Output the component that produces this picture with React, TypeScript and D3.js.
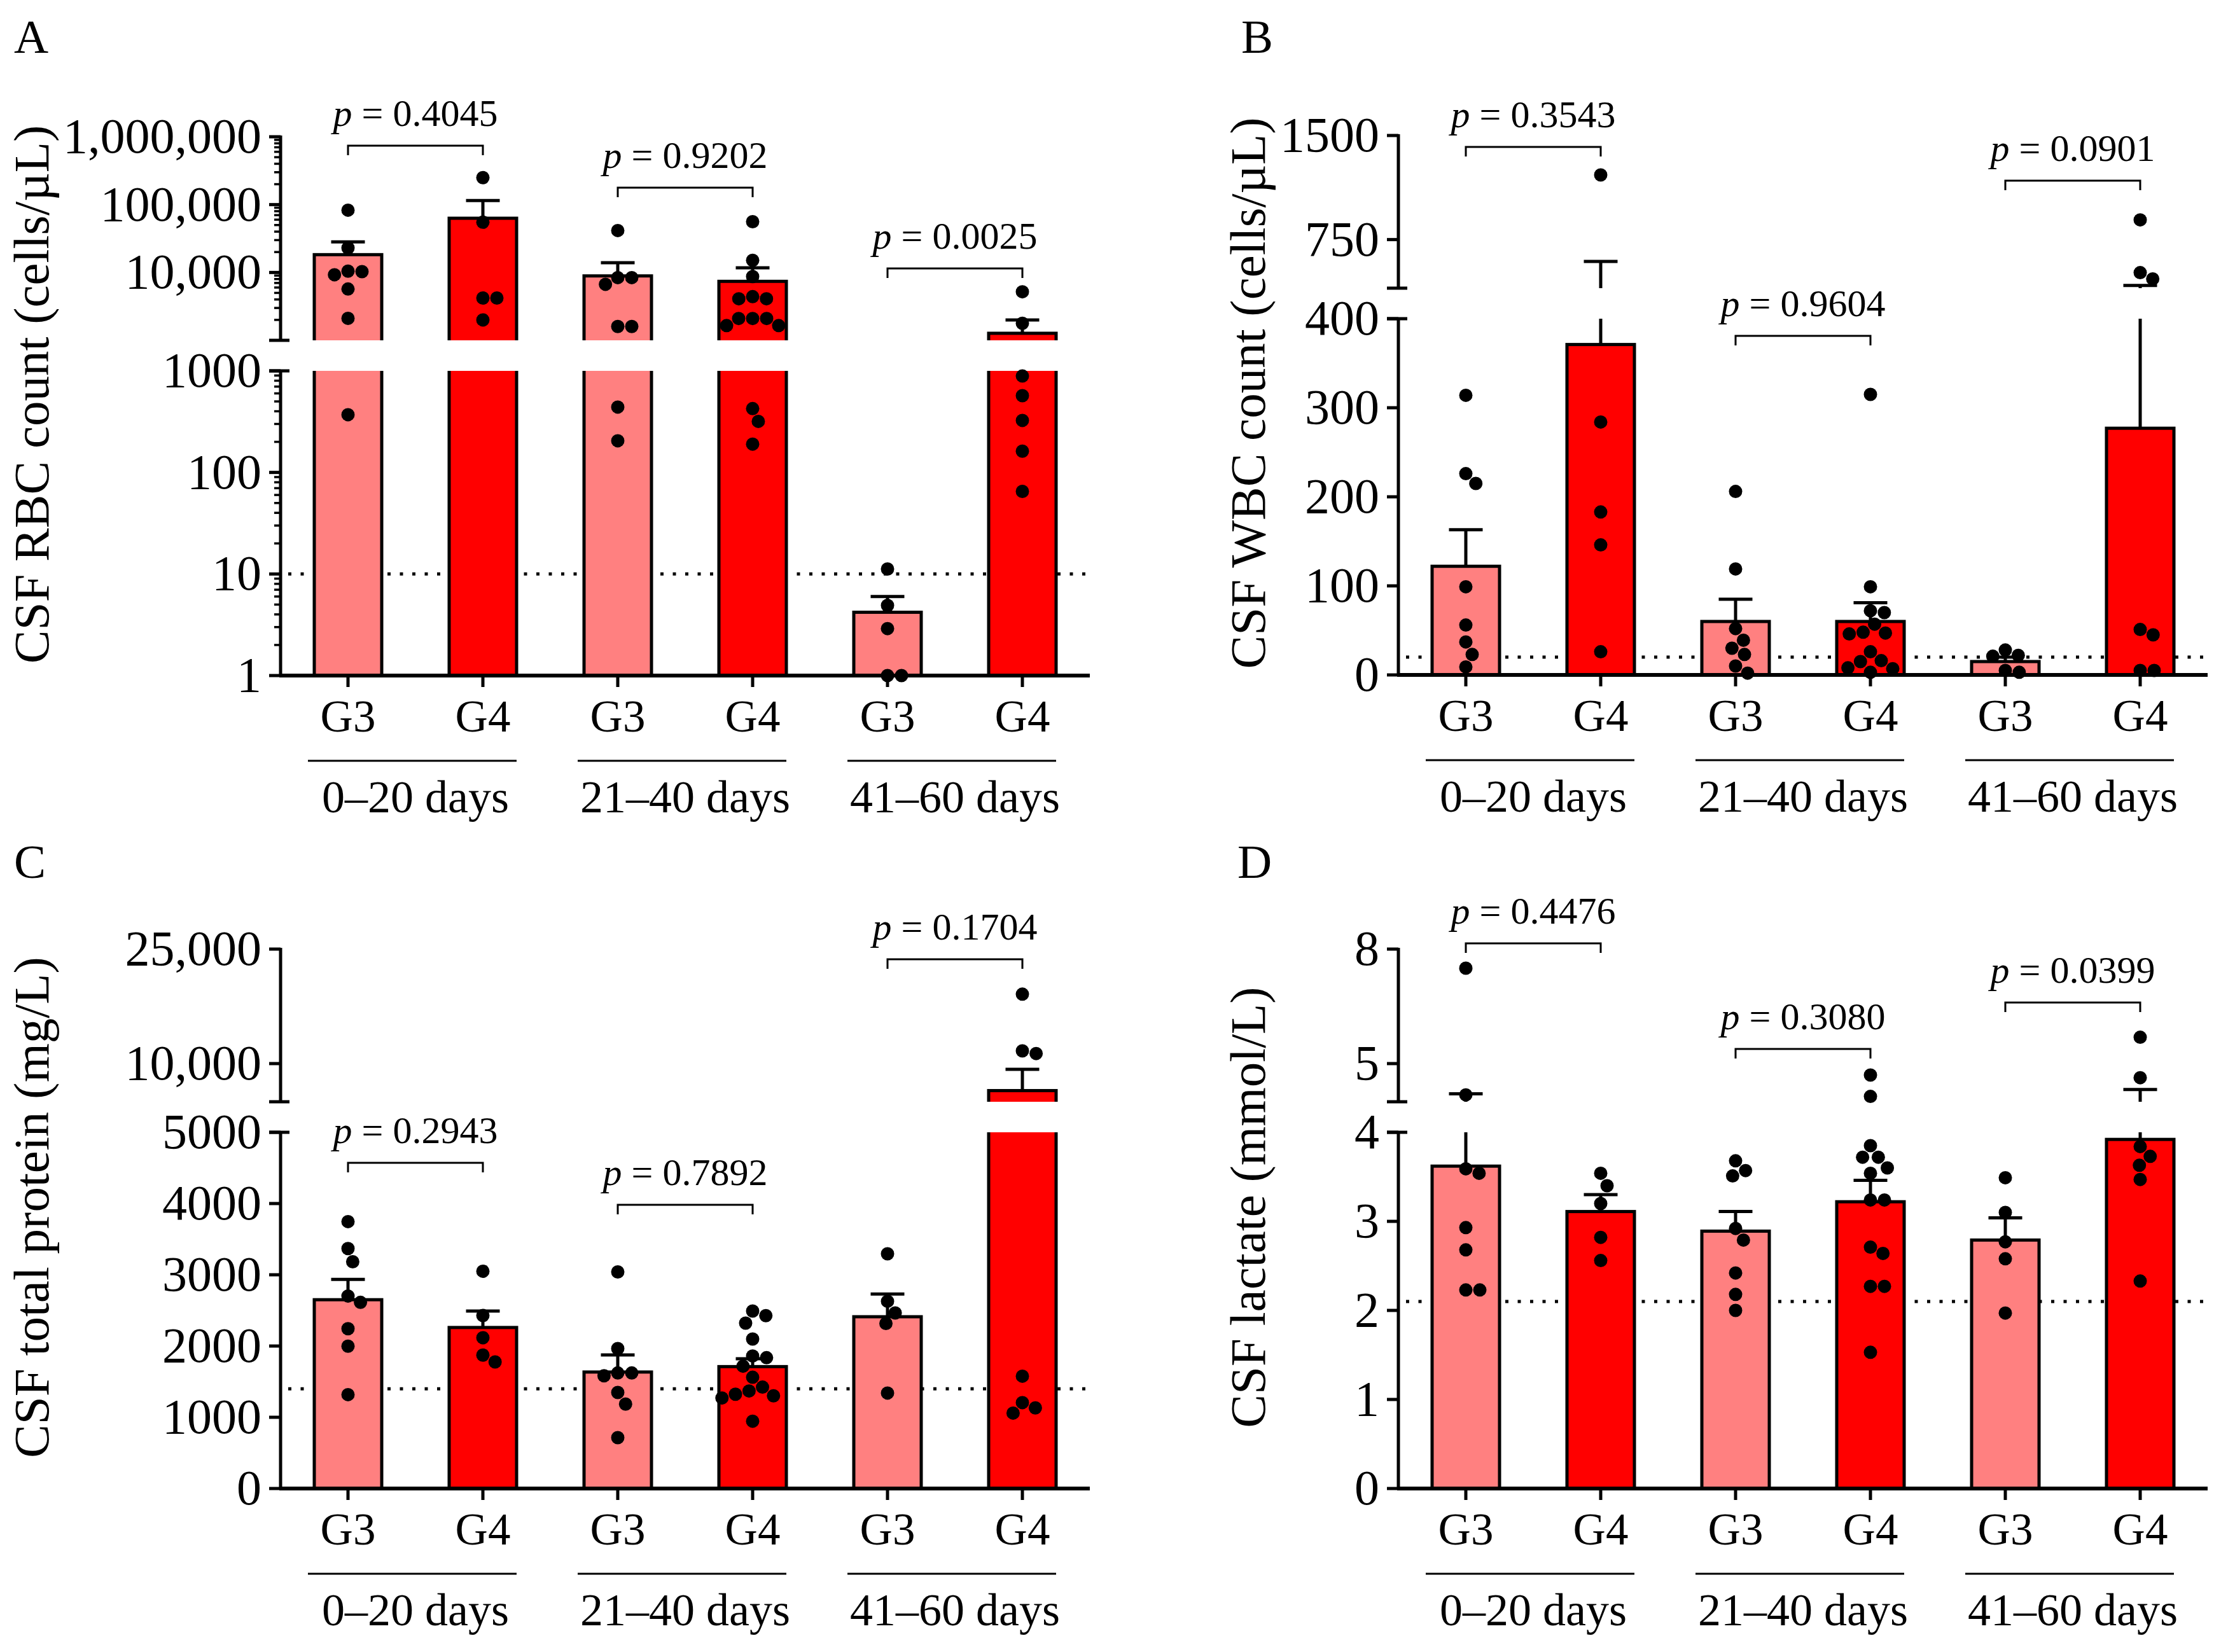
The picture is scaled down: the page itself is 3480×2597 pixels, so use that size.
import * as d3 from "d3"

const groups = ["G3", "G4", "G3", "G4", "G3", "G4"]
const periods = ["0–20 days", "21–40 days", "41–60 days"]

// A: CSF RBC count (cells/µL), log axis broken at 1000
const rbcPoints = [
  [82800, 23000, 10450, 10300, 9250, 5700, 2110, 370],
  [250000, 55000, 4200, 4200, 2000],
  [41500, 8400, 8400, 6700, 1600, 1600, 440, 205],
  [56000, 15100, 8700, 4400, 4100, 4100, 2100, 2100, 2100, 1650, 1650, 425, 318, 190],
  [11.2, 4.9, 2.9, 1, 1],
  [5200, 1780, 890, 570, 325, 162, 65],
]
const rbcMean = [18300, 63000, 8900, 7400, 4.2, 1270]
const rbcSem = [9900, 52000, 5000, 4300, 1.8, 730]
const rbcP = ["0.4045", "0.9202", "0.0025"]
const rbcLowTicks = [1, 10, 100, 1000]
const rbcHighTicks = [10000, 100000, 1000000]

// B: CSF WBC count (cells/µL), broken at 400
const wbcPoints = [
  [314, 226, 215, 99, 56, 37, 23, 9],
  [1216, 284, 183, 146, 26],
  [206, 119, 52, 39, 30, 23, 10, 2],
  [315, 99, 72, 70, 57, 48, 47, 46, 26, 16, 15, 8, 7, 3],
  [28, 22, 21, 5, 3],
  [892, 512, 467, 51, 45, 5, 5],
]
const wbcMean = [122, 371, 60, 60, 15, 277]
const wbcSem = [41, 222, 25, 21, 5, 142]
const wbcP = ["0.3543", "0.9604", "0.0901"]
const wbcLowTicks = [0, 100, 200, 300, 400]
const wbcHighTicks = [750, 1500]

// C: CSF total protein (mg/L), broken at 5000
const protPoints = [
  [3746, 3368, 3183, 2702, 2613, 2243, 1998, 1318],
  [3050, 2428, 2117, 1873, 1777],
  [3040, 1964, 1622, 1622, 1583, 1348, 1185, 714],
  [2491, 2426, 2321, 2098, 1860, 1836, 1717, 1562, 1423, 1369, 1324, 1301, 1271, 945],
  [3295, 2628, 2464, 2317, 1340],
  [19100, 11670, 11320, 1577, 1206, 1132, 1059],
]
const protMean = [2650, 2260, 1635, 1711, 2411, 6460]
const protSem = [286, 231, 240, 110, 320, 2780]
const protP = ["0.2943", "0.7892", "0.1704"]
const protLowTicks = [0, 1000, 2000, 3000, 4000, 5000]
const protHighTicks = [10000, 25000]

// D: CSF lactate (mmol/L), broken at 4
const lacPoints = [
  [7.5, 4.18, 3.59, 3.54, 2.93, 2.68, 2.23, 2.23],
  [3.54, 3.4, 3.2, 2.82, 2.56],
  [3.68, 3.57, 3.51, 2.92, 2.79, 2.42, 2.18, 2.0],
  [4.7, 4.14, 3.85, 3.72, 3.72, 3.6, 3.54, 3.24, 3.24, 2.71, 2.64, 2.27, 2.27, 1.53],
  [3.49, 3.1, 2.77, 2.58, 1.97],
  [5.69, 4.63, 3.84, 3.73, 3.63, 3.47, 2.33],
]
const lacMean = [3.62, 3.11, 2.89, 3.22, 2.79, 3.92]
const lacSem = [0.59, 0.19, 0.22, 0.24, 0.25, 0.4]
const lacP = ["0.4476", "0.3080", "0.0399"]
const lacLowTicks = [0, 1, 2, 3, 4]
const lacHighTicks = [5, 8]

const panels = [
  { letter: "A", title: "CSF RBC count (cells/µL)", points: rbcPoints, mean: rbcMean, sem: rbcSem, p: rbcP,
    ref: 10, log: true, low: [1, 1000], high: [1000, 1000000], lowTicks: rbcLowTicks, highTicks: rbcHighTicks },
  { letter: "B", title: "CSF WBC count (cells/µL)", points: wbcPoints, mean: wbcMean, sem: wbcSem, p: wbcP,
    ref: 20, log: false, low: [0, 400], high: [400, 1500], lowTicks: wbcLowTicks, highTicks: wbcHighTicks },
  { letter: "C", title: "CSF total protein (mg/L)", points: protPoints, mean: protMean, sem: protSem, p: protP,
    ref: 1400, log: false, low: [0, 5000], high: [5000, 25000], lowTicks: protLowTicks, highTicks: protHighTicks },
  { letter: "D", title: "CSF lactate (mmol/L)", points: lacPoints, mean: lacMean, sem: lacSem, p: lacP,
    ref: 2.1, log: false, low: [0, 4], high: [4, 8], lowTicks: lacLowTicks, highTicks: lacHighTicks },
]

// placement of each panel on the page
const layout = [
  { ox: 441, y0: 1062, lowH: 479, highH: 320, titleX: 76, titleY: 620, letterX: 22, letterY: 83, brackets: [-833, -767, -640] },
  { ox: 2198, y0: 1061, lowH: 560, highH: 240, titleX: 1988, titleY: 618, letterX: 1951, letterY: 83, brackets: [-830, -533, -777] },
  { ox: 441, y0: 2340, lowH: 560, highH: 240, titleX: 76, titleY: 1898, letterX: 22, letterY: 1380, brackets: [-512, -446, -832] },
  { ox: 2198, y0: 2340, lowH: 560, highH: 240, titleX: 1988, titleY: 1898, letterX: 1945, letterY: 1380, brackets: [-857, -691, -764] },
]

const W = 3480
const H = 2597
const GAP = 48
const AXIS_LEN = 1272
const DOT_R = 10.5
const FONT = '"Liberation Serif", "Times New Roman", serif'
const colors = ["#ff8080", "#ff0000"]

const fmt = (v: number) => (v >= 10000 ? d3.format(",")(v) : String(v))

function swarm(vals: number[], yf: (v: number) => number, r: number) {
  const d = 2 * r + 1
  const placed: { x: number; y: number }[] = []
  const order = vals.map((v) => yf(v)).sort((a, b) => a - b)
  for (const y of order) {
    const cands = [0]
    for (const q of placed) {
      const dy = y - q.y
      if (Math.abs(dy) < d) {
        const dx = Math.sqrt(d * d - dy * dy)
        cands.push(q.x + dx, q.x - dx)
      }
    }
    cands.sort((a, b) => Math.abs(a) - Math.abs(b))
    const x = cands.find((c) => placed.every((q) => (c - q.x) ** 2 + (y - q.y) ** 2 >= d * d - 0.5)) ?? 0
    placed.push({ x, y })
  }
  return placed
}

function Panel({ cfg, lay }: { cfg: any; lay: any }) {
  const { ox, y0, lowH, highH } = lay
  const lowTop = y0 - lowH
  const highBot = lowTop - GAP
  const highTop = highBot - highH
  const mk = () => (cfg.log ? d3.scaleLog() : d3.scaleLinear())
  const yLow = mk().domain(cfg.low).range([y0, lowTop])
  const yHigh = mk().domain(cfg.high).range([highBot, highTop])
  const y = (v: number) => (v <= cfg.low[1] ? yLow(v) : yHigh(v))

  const x = d3
    .scaleBand<number>()
    .domain(d3.range(groups.length))
    .range([ox, ox + AXIS_LEN])
    .paddingInner(0.5)
    .paddingOuter(0.25)
  const bw = x.bandwidth()
  const cx = (i: number) => (x(i) as number) + bw / 2
  const xEnd = ox + AXIS_LEN

  const minor: number[] = []
  if (cfg.log) {
    for (const [a, b] of [cfg.low, cfg.high]) {
      for (let dec = a; dec < b; dec *= 10) {
        for (let k = 2; k <= 9; k++) minor.push(dec * k)
      }
    }
  }

  return (
    <g fontFamily={FONT} fill="#000">
      <text x={lay.letterX} y={lay.letterY} fontSize={75}>
        {cfg.letter}
      </text>
      <text
        transform={`translate(${lay.titleX},${lay.titleY}) rotate(-90)`}
        textAnchor="middle"
        fontSize={79}
      >
        {cfg.title}
      </text>

      {/* reference line */}
      <line x1={ox + 12} x2={xEnd} y1={y(cfg.ref)} y2={y(cfg.ref)} stroke="#000" strokeWidth={5} strokeDasharray="5,14.5" />

      {/* bars */}
      {cfg.mean.map((m: number, i: number) => (
        <rect
          key={"b" + i}
          x={x(i)}
          y={y(m)}
          width={bw}
          height={y0 - y(m)}
          fill={colors[i % 2]}
          stroke="#000"
          strokeWidth={5}
        />
      ))}

      {/* error bars (mean + SEM) */}
      {cfg.mean.map((m: number, i: number) => {
        const top = y(m + cfg.sem[i])
        return (
          <g key={"e" + i} stroke="#000" strokeWidth={5}>
            <line x1={cx(i)} x2={cx(i)} y1={y(m)} y2={top} />
            <line x1={cx(i) - bw / 4} x2={cx(i) + bw / 4} y1={top} y2={top} />
          </g>
        )
      })}

      {/* axis break */}
      <rect x={ox - 30} y={highBot} width={AXIS_LEN + 40} height={GAP} fill="#fff" />

      {/* y axis */}
      <g stroke="#000">
        <line x1={ox} x2={ox} y1={y0 + 2} y2={lowTop} strokeWidth={5} />
        <line x1={ox} x2={ox} y1={highBot} y2={highTop - 2} strokeWidth={5} />
        <line x1={ox - 18} x2={ox + 14} y1={lowTop} y2={lowTop} strokeWidth={5} />
        <line x1={ox - 18} x2={ox + 14} y1={highBot} y2={highBot} strokeWidth={5} />
        {cfg.lowTicks.map((t: number) => (
          <line key={"lt" + t} x1={ox - 18} x2={ox} y1={yLow(t)} y2={yLow(t)} strokeWidth={5} />
        ))}
        {cfg.highTicks.map((t: number) => (
          <line key={"ht" + t} x1={ox - 18} x2={ox} y1={yHigh(t)} y2={yHigh(t)} strokeWidth={5} />
        ))}
        {minor.map((t) => (
          <line key={"m" + t} x1={ox - 10} x2={ox} y1={y(t)} y2={y(t)} strokeWidth={3.5} />
        ))}
      </g>
      <g fontSize={78} textAnchor="end">
        {cfg.lowTicks.map((t: number) => (
          <text key={"ll" + t} x={ox - 30} y={yLow(t)} dy="0.32em">
            {fmt(t)}
          </text>
        ))}
        {cfg.highTicks.map((t: number) => (
          <text key={"hl" + t} x={ox - 30} y={yHigh(t)} dy="0.32em">
            {fmt(t)}
          </text>
        ))}
      </g>

      {/* x axis */}
      <line x1={ox - 2} x2={xEnd} y1={y0} y2={y0} stroke="#000" strokeWidth={6} />
      {groups.map((g, i) => (
        <g key={"x" + i}>
          <line x1={cx(i)} x2={cx(i)} y1={y0} y2={y0 + 18} stroke="#000" strokeWidth={5} />
          <text x={cx(i)} y={y0 + 88} textAnchor="middle" fontSize={71}>
            {g}
          </text>
        </g>
      ))}
      {periods.map((p, k) => {
        const a = x(2 * k) as number
        const b = (x(2 * k + 1) as number) + bw
        return (
          <g key={"p" + k}>
            <line x1={a - 10} x2={b} y1={y0 + 134} y2={y0 + 134} stroke="#000" strokeWidth={3} />
            <text x={(a + b) / 2} y={y0 + 215} textAnchor="middle" fontSize={72}>
              {p}
            </text>
          </g>
        )
      })}

      {/* individual values */}
      {cfg.points.map((vals: number[], i: number) =>
        swarm(vals, y, DOT_R).map((pt, j) => (
          <circle key={"d" + i + "_" + j} cx={cx(i) + pt.x} cy={pt.y} r={DOT_R} fill="#000" />
        ))
      )}

      {/* p-value brackets */}
      {cfg.p.map((pv: string, k: number) => {
        const a = cx(2 * k)
        const b = cx(2 * k + 1)
        const yb = y0 + lay.brackets[k]
        return (
          <g key={"pv" + k}>
            <path d={`M${a},${yb + 15}V${yb}H${b}V${yb + 15}`} fill="none" stroke="#000" strokeWidth={3} />
            <text x={(a + b) / 2} y={yb - 31} textAnchor="middle" fontSize={60}>
              <tspan fontStyle="italic">p</tspan> = {pv}
            </text>
          </g>
        )
      })}
    </g>
  )
}

export default function App() {
  return (
    <svg
      width={W}
      height={H}
      viewBox={`0 0 ${W} ${H}`}
      style={{ position: "absolute", left: 0, top: 0, background: "#fff" }}
    >
      <rect width={W} height={H} fill="#fff" />
      {panels.map((cfg, i) => (
        <Panel key={cfg.letter} cfg={cfg} lay={layout[i]} />
      ))}
    </svg>
  )
}
